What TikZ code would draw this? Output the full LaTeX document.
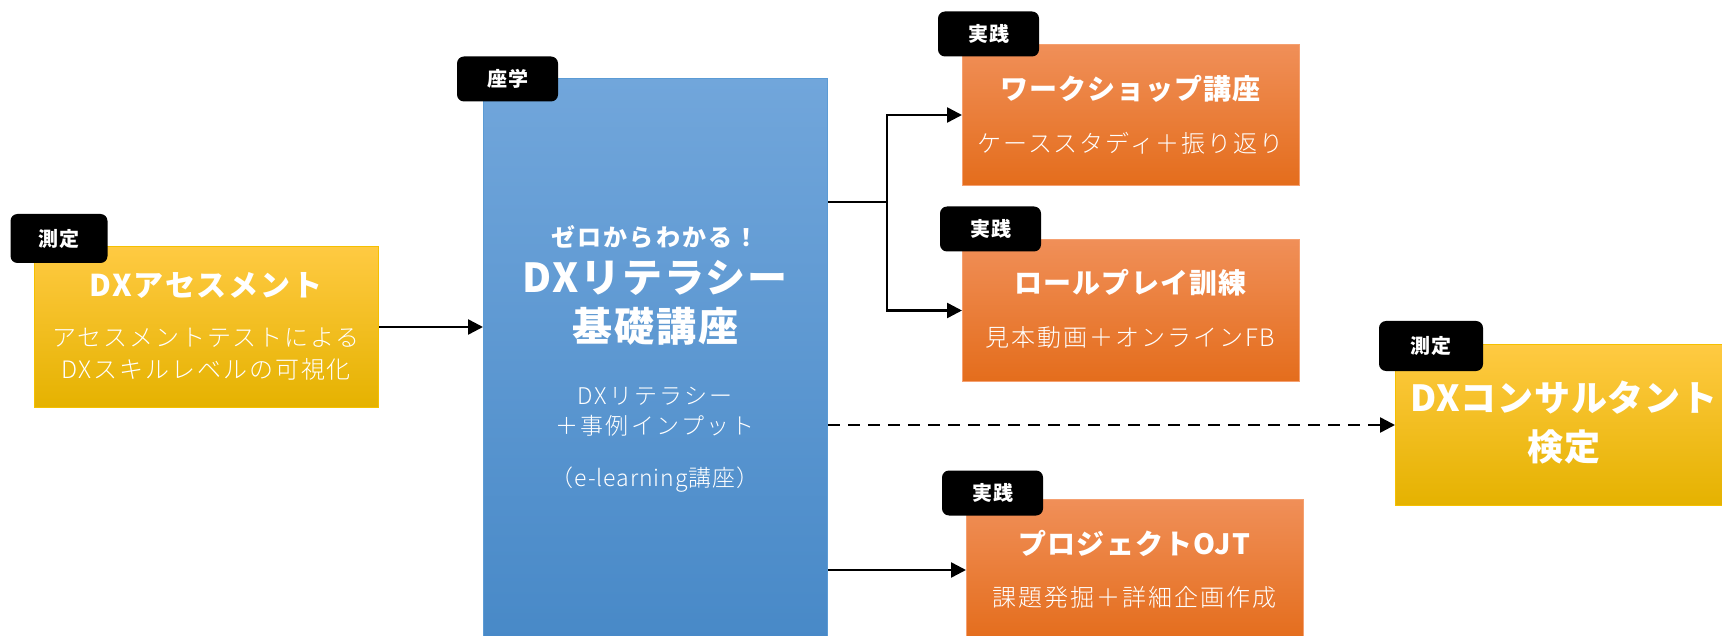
\documentclass[tikz,border=0pt]{standalone}
\usepackage{fontspec}
\setmainfont{Noto Sans CJK JP}
\IfFontExistsTF{Noto Sans CJK JP Light}
  {\newfontfamily\lightjp{Noto Sans CJK JP Light}}
  {\newfontfamily\lightjp{Noto Sans CJK JP}}
\usetikzlibrary{arrows.meta,calc}
\definecolor{ytop}{HTML}{FFCA42}
\definecolor{ymid}{HTML}{FFC300}
\definecolor{ybot}{HTML}{E5B200}
\definecolor{ydraw}{HTML}{F5C000}
\definecolor{btop}{HTML}{71A6DB}
\definecolor{bmid}{HTML}{5B9BD9}
\definecolor{bbot}{HTML}{4587C6}
\definecolor{bdraw}{HTML}{5B9BD5}
\definecolor{otop}{HTML}{F08F58}
\definecolor{omid}{HTML}{F57F2C}
\definecolor{obot}{HTML}{E46D1C}
\definecolor{odraw}{HTML}{F5A070}
\newcommand{\ls}[1]{\addfontfeatures{LetterSpace=#1}}
\tikzset{
  tagbox/.style={fill=black, rounded corners=7pt, text=white, inner sep=0pt,
    minimum width=101pt, minimum height=45pt, font=\bfseries\fontsize{20}{22}\selectfont\ls{5}},
  ybox/.style={top color=ytop, middle color=ymid, bottom color=ybot, draw=ydraw, line width=1pt, anchor=north west, inner sep=0pt},
  bbox/.style={top color=btop, middle color=bmid, bottom color=bbot, draw=bdraw, line width=1pt, anchor=north west, inner sep=0pt},
  obox/.style={top color=otop, middle color=omid, bottom color=obot, draw=odraw, line width=1pt, anchor=north west, inner sep=0pt},
  wtxt/.style={text=white, align=center, inner sep=0pt},
  ttl/.style={wtxt, font=\bfseries\fontsize{30}{34}\selectfont\ls{6}},
  otl/.style={wtxt, font=\bfseries\fontsize{28}{32}\selectfont\ls{4}},
  sub/.style={wtxt, font=\lightjp\fontsize{24}{32}\selectfont\ls{8}},
  conn/.style={line width=2.5pt, -{Triangle[length=15pt,width=15pt]}},
  plain/.style={line width=2.5pt},
}
\begin{document}
\begin{tikzpicture}[x=1pt,y=-1pt]
\useasboundingbox (0,0) rectangle (1722,636);
\clip (0,0) rectangle (1722,636);
% boxes
\node[ybox, minimum width=344pt, minimum height=161pt] (assess) at (34,246) {};
\node[bbox, minimum width=344pt, minimum height=602pt] (blue) at (483,78) {};
\node[obox, minimum width=337pt, minimum height=141pt] (ws) at (962,44) {};
\node[obox, minimum width=337pt, minimum height=142pt] (rp) at (962,239) {};
\node[obox, minimum width=337pt, minimum height=141pt] (ojt) at (966,499) {};
\node[ybox, minimum width=344pt, minimum height=161pt] (final) at (1395,344) {};
% tags
\node[tagbox, minimum width=97pt, minimum height=49pt] (t1) at (59,238.5) {測定};
\node[tagbox] (t2) at (507.5,79) {座学};
\node[tagbox] (t3) at (988.5,34) {実践};
\node[tagbox] (t4) at (990.5,229) {実践};
\node[tagbox] (t5) at (992.5,493) {実践};
\node[tagbox, minimum width=104pt, minimum height=50pt] (t6) at (1431,346) {測定};
% texts
\node[ttl] (a1) at (206,285) {DXアセスメント};
\node[sub] (a2) at (206,354) {アセスメントテストによる\\DXスキルレベルの可視化};
\node[wtxt, font=\bfseries\fontsize{24}{26}\selectfont\ls{9}] (b1) at (655,237) {ゼロからわかる！};
\node[wtxt, font=\bfseries\fontsize{40}{49}\selectfont\ls{5}] (b2) at (655,302.5) {DXリテラシー\\基礎講座};
\node[wtxt, font=\lightjp\fontsize{23}{30}\selectfont\ls{10}] (b3) at (655,412) {DXリテラシー\\＋事例インプット};
\node[wtxt, font=\lightjp\fontsize{23}{30}\selectfont\ls{4}] (b4) at (655,480) {（e-learning講座）};
\node[otl] (w1) at (1130.5,89) {ワークショップ講座};
\node[sub] (w2) at (1130.5,143) {ケーススタディ＋振り返り};
\node[otl] (r1) at (1130.5,283) {ロールプレイ訓練};
\node[sub] (r2) at (1130.5,337) {見本動画＋オンラインFB};
\node[otl] (o1) at (1134.5,543) {プロジェクトOJT};
\node[sub] (o2) at (1134.5,597) {課題発掘＋詳細企画作成};
\node[wtxt, font=\bfseries\fontsize{36}{49}\selectfont\ls{2}] (f1) at (1564,422.5) {DXコンサルタント\\検定};
% connectors
\draw[conn] (assess.east) -- (assess.east -| blue.west);
\coordinate (j) at (887,202);
\draw[plain] (j -| blue.east) -- (j);
\draw[conn] (j) |- (ws.west);
\draw[conn] (j) |- (rp.west);
\draw[conn, dash pattern=on 12pt off 8pt] (blue.east |- final.west) -- (final.west);
\draw[conn] (blue.east |- ojt.west) -- (ojt.west);
\end{tikzpicture}
\end{document}
